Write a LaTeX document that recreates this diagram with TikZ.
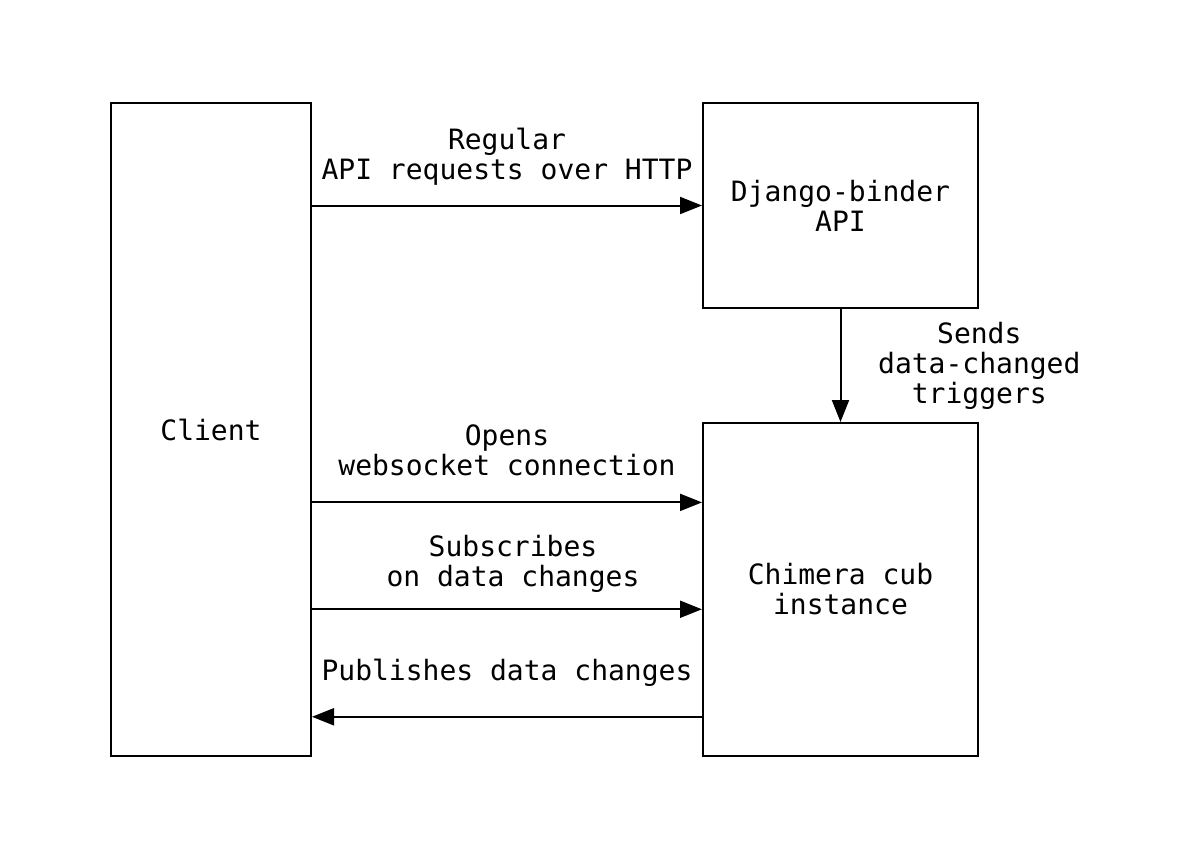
\documentclass[tikz,border=0pt]{standalone}
\usepackage{fontspec}
\setmonofont{DejaVu Sans Mono}
\usetikzlibrary{positioning, calc, arrows.meta}

\begin{document}
\begin{tikzpicture}[x=0.5pt,y=-0.5pt,line width=1pt,
    >={Triangle[length=11pt,width=8.5pt]},
    every node/.style={font=\ttfamily\fontsize{14}{15}\selectfont,align=center},
    box/.style={draw,line width=1pt,inner sep=0pt},
    lbl/.style={midway,text depth=0pt}]
      \useasboundingbox (0,0) rectangle (1180,852);
      \node[box,minimum width=100pt,minimum height=326.5pt] (client) at (211,429.5) {Client};
      \node[box,minimum width=137.5pt,minimum height=102.5pt] (django) at (840.5,205.5) {Django-binder\\API};
      \node[box,minimum width=137.5pt,minimum height=166.5pt] (chimera) at (840.5,589.5) {Chimera cub\\instance};
      %
      \coordinate (opens_in) at ($(chimera.north west)!0.24!(chimera.south west)$);
      \coordinate (subscribe_in) at ($(chimera.north west)!0.559!(chimera.south west)$);
      \coordinate (publish_out) at ($(chimera.north west)!0.88!(chimera.south west)$);
      %
      \draw[->] (client.east |- django.west) 
      -- node[lbl,above=9.3pt]{Regular\\API requests over HTTP} 
      (django.west);
      \draw[->] (django.south) 
      -- node[midway,right,xshift=15pt]{Sends\\data-changed\\triggers} 
      (chimera.north);

      \draw[->] (client.east |- opens_in) 
      -- node[lbl,above=9.8pt]{Opens\\websocket connection} 
      (opens_in);
      \draw[->] (client.east |- subscribe_in) 
      -- node[lbl,above=7.8pt,xshift=3pt]{Subscribes\\on data changes} 
      (subscribe_in);
      \draw[<-] (client.east |- publish_out) 
      -- node[lbl,above=14.3pt]{Publishes data changes} 
      (publish_out);
  \end{tikzpicture}
\end{document}
